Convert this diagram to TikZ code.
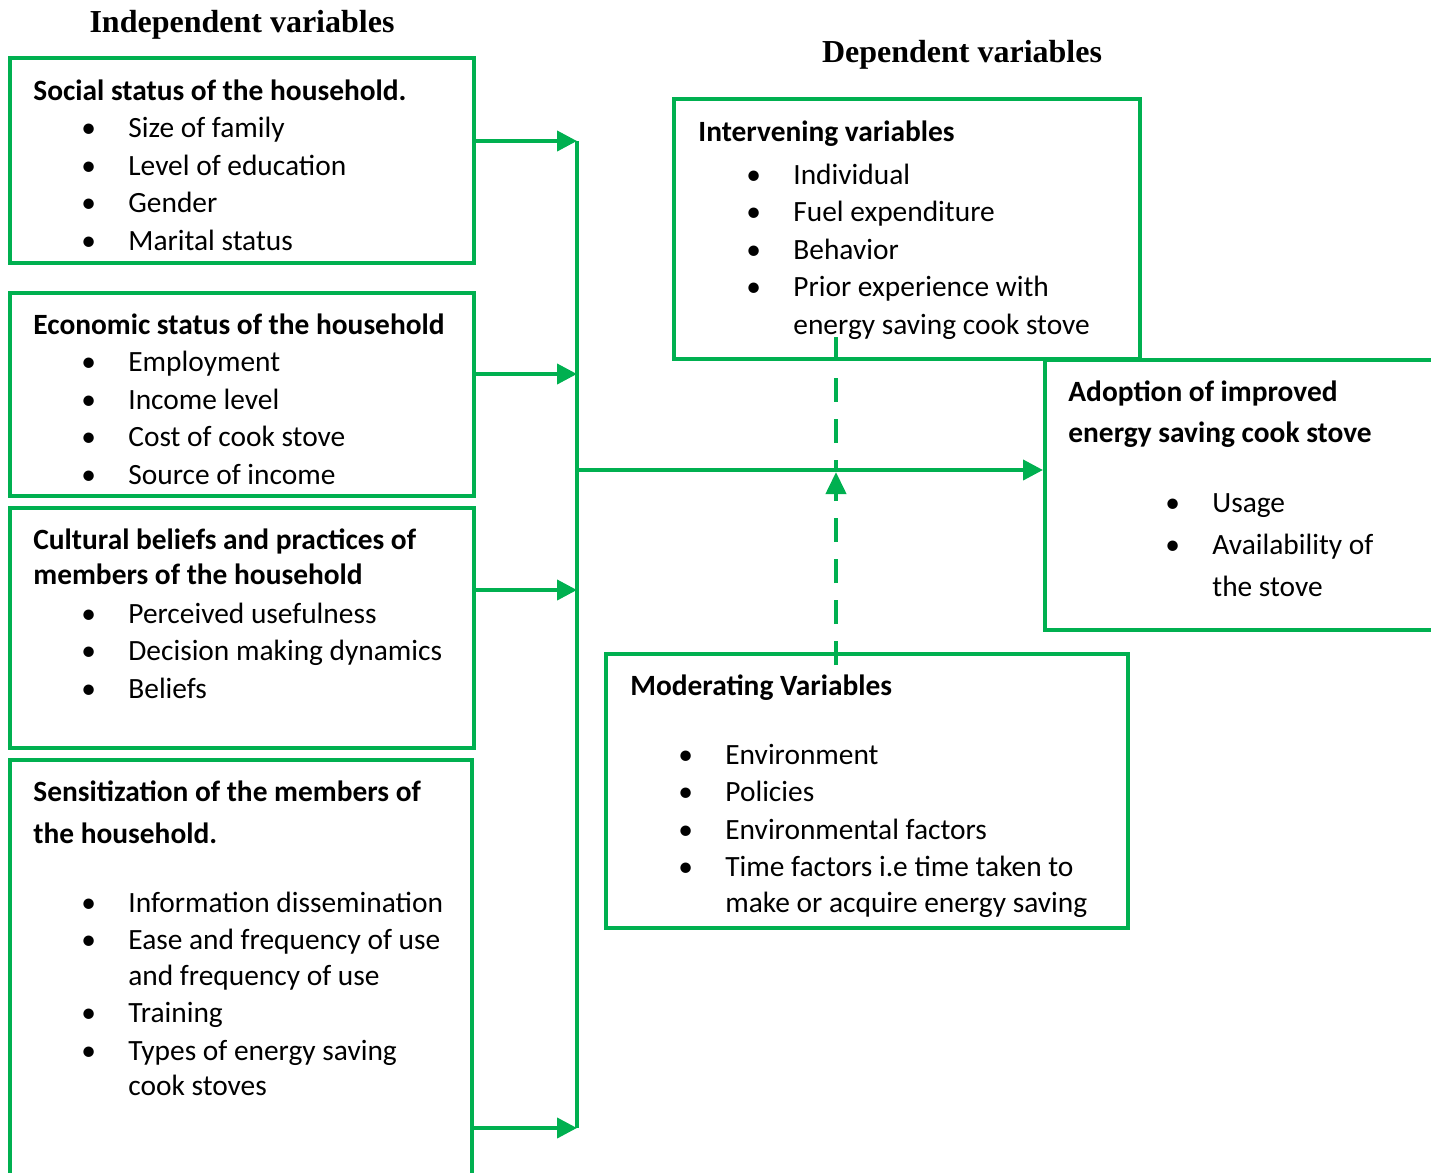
\documentclass[tikz,border=0pt]{standalone}
\usepackage{fontspec}
\setmainfont{Carlito}
\newfontfamily\titlefont{Liberation Serif}
\usetikzlibrary{arrows.meta,fit}
\definecolor{boxgreen}{RGB}{0,176,80}
% bullet item and continued line
\newcommand{\itm}[1]{\hspace*{24pt}\makebox[23.5pt][l]{\textbullet}#1}
\newcommand{\cnt}[1]{\hspace*{47.5pt}#1}
\tikzset{
  varbox/.style={draw=boxgreen, line width=2pt, inner sep=0pt},
  vartext/.style={anchor=north west, align=left, inner sep=0pt, font=\fontsize{14.7}{18.75}\selectfont},
  title/.style={anchor=base, inner sep=0pt, font=\titlefont\bfseries\fontsize{16}{19}\selectfont},
  feed/.style={draw=boxgreen, line width=2pt, -{Triangle[length=10pt,width=10pt]}},
  bus/.style={draw=boxgreen, line width=2pt},
  modline/.style={draw=boxgreen, line width=2pt, dash pattern=on 12pt off 8.5pt},
}
\begin{document}
\begin{tikzpicture}[x=0.5pt,y=-0.5pt]
\clip (0,0) rectangle (1431,1173);

% titles
\node[title] (indep) at (242,32) {Independent variables};
\node[title] (dep) at (962,62) {Dependent variables};

% independent variable boxes
\node[varbox, fit={(10,58) (474,263)}] (social) {};
\node[varbox, fit={(10,293) (474,496)}] (econ) {};
\node[varbox, fit={(10,508) (474,748)}] (culture) {};
\node[varbox, fit={(10,760) (472,1200)}] (sensit) {};

% texts: node top = first baseline - 26.25
\node[vartext] (socialtxt) at (33,73.5) {\strut\textbf{Social status of the household.}\\
\itm{Size of family}\\ \itm{Level of education}\\ \itm{Gender}\\ \itm{Marital status}};
\node[vartext] (econtxt) at (33,307.5) {\strut\textbf{Economic status of the household}\\
\itm{Employment}\\ \itm{Income level}\\ \itm{Cost of cook stove}\\ \itm{Source of income}};
\node[vartext] (culturetxt) at (33,522.5) {\strut\textbf{Cultural beliefs and practices of}\\[-1pt]
\textbf{members of the household}\\[0.5pt]
\itm{Perceived usefulness}\\ \itm{Decision making dynamics}\\ \itm{Beliefs}};
\node[vartext] (sensittxt) at (33,774.5) {\strut\textbf{Sensitization of the members of}\\[2.25pt]
\textbf{the household.}\\[15.75pt]
\itm{Information dissemination}\\ \itm{Ease and frequency of use}\\[-1pt]
\cnt{and frequency of use}\\ \itm{Training}\\ \itm{Types of energy saving}\\[-1pt]
\cnt{cook stoves}};

% dependent side boxes
\node[varbox, fit={(674,99) (1140,359)}] (interv) {};
\node[varbox, fit={(1045,360) (1460,630)}] (adopt) {};
\node[varbox, fit={(606,654) (1128,928)}] (moder) {};

\node[vartext] (intervtxt) at (698,114.5) {\strut\textbf{Intervening variables}\\[2.75pt]
\itm{Individual}\\ \itm{Fuel expenditure}\\ \itm{Behavior}\\ \itm{Prior experience with}\\
\cnt{energy saving cook stove}};
\node[vartext] (adopttxt) at (1068,374.5) {\strut\textbf{Adoption of improved}\\[2pt]
\textbf{energy saving cook stove}\\[16.25pt]
\hspace*{24.5pt}\itm{Usage}\\[2.25pt] \hspace*{24.5pt}\itm{Availability of}\\[2.25pt]
\hspace*{24.5pt}\cnt{the stove}};
\node[vartext] (modertxt) at (630,668.5) {\strut\textbf{Moderating Variables}\\[15.75pt]
\itm{Environment}\\ \itm{Policies}\\ \itm{Environmental factors}\\ \itm{Time factors i.e time taken to}\\[-1pt]
\cnt{make or acquire energy saving}};

% junctions on the collecting line
\coordinate (j1) at (577,141);
\coordinate (j2) at (577,374);
\coordinate (j3) at (577,590);
\coordinate (j4) at (577,1128);
\coordinate (hub) at (577,470);
\coordinate (dtop) at (836,337);
\coordinate (dbot) at (836,665);

\draw[bus] (j1) -- (j4);
\draw[feed] (j1 -| social.east) -- (j1);
\draw[feed] (j2 -| econ.east) -- (j2);
\draw[feed] (j3 -| culture.east) -- (j3);
\draw[feed] (j4 -| sensit.east) -- (j4);
\draw[feed] (hub) -- (hub -| adopt.west);

% moderating / intervening links
\draw[modline] (dtop) -- (dtop |- hub);
\draw[modline, -{Triangle[length=11pt,width=10pt]}] (dbot) -- ([yshift=-1pt]dtop |- hub);
\end{tikzpicture}
\end{document}
